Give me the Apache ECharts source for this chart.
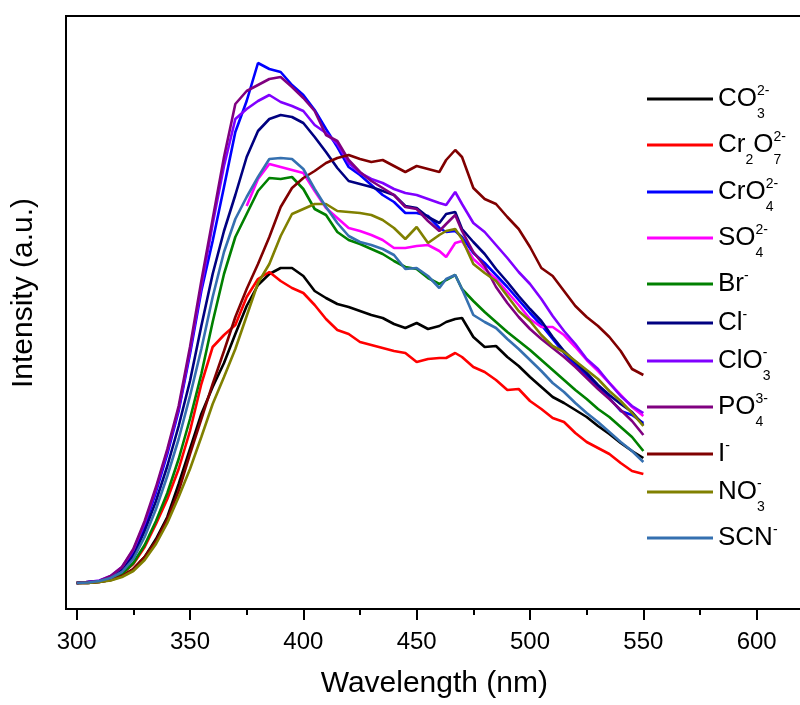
<!DOCTYPE html>
<html><head><meta charset="utf-8">
<script src="https://cdn.jsdelivr.net/npm/echarts@6/dist/echarts.min.js"></script>
<style>html,body{margin:0;padding:0;background:#fff}#c{width:800px;height:705px}</style>
</head><body><div id="c"></div>
<script>
// Wavelength grid (nm)
const wavelengths = [300,305,310,315,320,325,330,335,340,345,350,355,360,365,370,375,380,385,390,395,400,405,410,415,420,425,430,435,440,445,450,455,460,463,467,470,475,480,485,490,495,500,505,510,515,520,525,530,535,540,545,550];

// Intensities (a.u.)
const CO3   = [26,26,27,29,33,40,52,70,92,125,160,195,222,246,275,303,324,335,341,341,333,318,311,305,302,298,294,291,285,281,286,280,283,287,290,291,272,262,263,252,243,232,222,212,206,199,192,183,175,166,158,151];
const Cr2O7 = [26,26.5,27.5,30,35,45,62,85,110,140,178,225,262,274,284,312,330,337,328,321,316,304,290,279,275,267,264,261,258,256,247,250,251,251,256,252,242,237,229,219,220,208,200,191,187,176,167,161,155,146,138,135];
const CrO4  = [26,27,28,32,40,56,83,117,155,198,255,318,368,422,477,508,546,540,537,524,514,499,480,462,442,434,424,414,407,396,396,393,381,377,378,372,356,346,334,322,309,296,284,270,256,244,233,222,211,198,194,186];
const SO4   = [null,null,null,null,null,null,null,null,null,null,null,null,null,null,null,403,430,445,442,439,436,418,401,391,381,378,374,369,361,361,363,364,358,352,366,368,350,340,330,317,304,290,282,282,274,262,249,238,226,214,202,193];
const Br    = [26,26.5,27.5,30,35,46,64,88,116,150,190,235,287,335,372,395,418,431,430,432,420,400,394,377,369,365,360,355,348,342,340,331,325,329,334,320,308,297,287,277,268,259,249,239,229,219,210,200,192,182,172,158];
const Cl    = [26,27,28,32,39,53,78,108,143,183,228,283,335,378,414,452,478,490,494,492,486,472,457,441,428,425,422,418,414,403,401,392,386,395,397,380,367,355,340,327,313,300,288,272,258,247,236,224,214,205,197,184];
const ClO3  = [26,27,28.5,33,42,59,86,120,158,200,258,322,385,443,490,500,508,514,507,503,498,484,476,465,446,436,430,426,420,416,414,410,406,404,417,405,386,377,364,351,337,325,310,293,278,265,250,240,226,213,203,196];
const PO4   = [26,27,28,33,42,60,88,122,160,203,262,328,390,452,505,518,524,530,532,522,511,498,474,468,449,437,428,421,414,402,400,388,378,385,394,378,357,343,322,306,292,280,270,261,252,242,231,220,210,199,188,174];
const I     = [26,26,27,29,33,40,52,68,90,118,155,190,225,258,292,320,345,372,402,421,431,438,446,451,454,450,447,449,443,437,443,440,437,449,459,452,421,410,405,392,380,362,341,333,318,303,292,283,272,258,240,234];
const NO3   = [26,26,27,28.5,32,38,49,65,86,112,140,172,205,232,260,293,326,345,373,395,400,405,405,398,397,396,394,389,381,370,382,366,374,378,380,370,345,336,328,313,298,288,274,263,257,248,239,230,218,208,196,183];
const SCN   = [26,26.5,28,31,37,50,72,100,133,170,213,260,312,357,390,412,432,450,451,450,440,420,402,386,373,367,364,360,354,340,341,333,321,330,334,320,294,287,281,270,260,249,238,226,217,206,196,187,177,167,158,147];

const seriesNames = ['CO₃²⁻','Cr₂O₇²⁻','CrO₄²⁻','SO₄²⁻','Br⁻','Cl⁻','ClO₃⁻','PO₄³⁻','I⁻','NO₃⁻','SCN⁻'];
const seriesValues = [CO3, Cr2O7, CrO4, SO4, Br, Cl, ClO3, PO4, I, NO3, SCN];
const seriesColors = ['#000000','#FF0000','#0000FF','#FF00FF','#008000','#000080','#8000FF','#800080','#800000','#808000','#3570B0'];
const legendRich = ['{m|CO}{b|3}{p|2-}','{m|Cr}{s|2}{m|O}{b|7}{p|2-}','{m|CrO}{b|4}{p|2-}','{m|SO}{b|4}{p|2-}','{m|Br}{p|-}','{m|Cl}{p|-}','{m|ClO}{b|3}{p|-}','{m|PO}{b|4}{p|3-}','{m|I}{p|-}','{m|NO}{b|3}{p|-}','{m|SCN}{p|-}'];

const xTickLabels = [300,350,400,450,500,550,600];
const xMinorTicks = [325,375,425,475,525,575,625];

const FONT = 'Liberation Sans, Arial, sans-serif';
const legendLineY = [99,145,192,238,284,323,361,407,454,492,538];
const LH = 40;

const chart = echarts.init(document.getElementById('c'), null, {renderer:'canvas'});

const series = seriesNames.map((n, i) => ({
  name: n, type: 'line', showSymbol: false, symbol: 'none', silent: true,
  connectNulls: false,
  lineStyle: {width: 2.6, color: seriesColors[i]},
  itemStyle: {color: seriesColors[i]},
  data: wavelengths.map((w, k) => [w, seriesValues[i][k]]).filter(p => p[1] != null),
  z: 2 + i
}));

const rich = {
  m: {fontSize: 26, lineHeight: LH, verticalAlign: 'middle', fontFamily: FONT, color: '#000'},
  s: {fontSize: 14, lineHeight: LH, verticalAlign: 'top', padding: [28.3,0,0,0], fontFamily: FONT, color: '#000'},
  b: {fontSize: 14, lineHeight: LH, verticalAlign: 'top', padding: [28.3,0,0,0], width: 0, fontFamily: FONT, color: '#000'},
  p: {fontSize: 14, lineHeight: LH, verticalAlign: 'top', padding: [5.5,0,0,0], fontFamily: FONT, color: '#000'}
};

const legends = seriesNames.map((n, i) => ({
  data: [n], left: 647, top: legendLineY[i] - LH/2, orient: 'vertical', padding: 0, itemGap: 0,
  icon: 'rect', itemWidth: 66, itemHeight: 3, selectedMode: false,
  formatter: () => legendRich[i],
  textStyle: {fontFamily: FONT, color: '#000', fontSize: 26, rich: rich}
}));

chart.setOption({
  animation: false,
  backgroundColor: '#fff',
  grid: {left: 66, top: 16, width: 758.7, height: 593, containLabel: false, outerBoundsMode: 'none',
         show: true, borderColor: '#000', borderWidth: 2, backgroundColor: 'transparent'},
  legend: legends,
  xAxis: [{
    type: 'value', position: 'bottom', min: 295.3, max: 630,
    axisLine: {show: true, onZero: false, lineStyle: {color: '#000', width: 2}},
    axisTick: {show: true, customValues: xTickLabels, length: 11, inside: false, lineStyle: {color: '#000', width: 2}},
    axisLabel: {show: true, customValues: xTickLabels, margin: 21, fontSize: 24, color: '#000', fontFamily: FONT},
    splitLine: {show: false},
    name: 'Wavelength (nm)', nameLocation: 'middle', nameGap: 60,
    nameTextStyle: {fontSize: 30, color: '#000', fontFamily: FONT, padding: [0, 22, 0, 0]}
  }, {
    type: 'value', position: 'bottom', min: 295.3, max: 630,
    axisLine: {show: false, onZero: false},
    axisTick: {show: true, customValues: xMinorTicks, length: 6, inside: false, lineStyle: {color: '#000', width: 2}},
    axisLabel: {show: false},
    splitLine: {show: false}
  }],
  yAxis: {
    type: 'value', min: 0, max: 593,
    axisLine: {show: true, onZero: false, lineStyle: {color: '#000', width: 2}},
    axisTick: {show: false}, axisLabel: {show: false}, splitLine: {show: false},
    name: 'Intensity (a.u.)', nameLocation: 'middle', nameGap: 27,
    nameTextStyle: {fontSize: 30, color: '#000', fontFamily: FONT, padding: [0, 0, 0, 39]}
  },
  series: series
});
</script></body></html>
